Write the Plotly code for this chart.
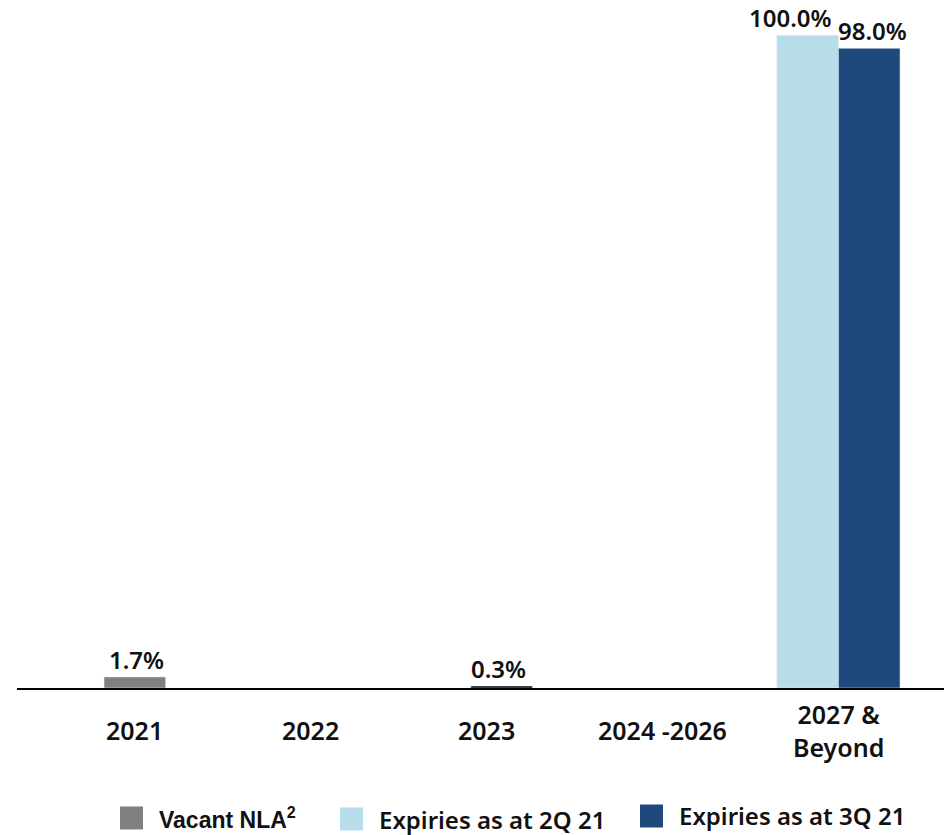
import plotly.graph_objects as go

# Lease expiry profile by year (% of NLA)
categories = ["2021", "2022", "2023", "2024 -2026", "2027 &<br>Beyond"]
vacant_nla = [1.7, None, None, None, None]
expiries_2q21 = [None, None, None, None, 100.0]
expiries_3q21 = [None, None, None, None, 98.0]
minor_expiry = [None, None, 0.3, None, None]

legend_names = ["Vacant NLA<sup>2</sup>", "Expiries as at 2Q 21", "Expiries as at 3Q 21"]

GRAY = "#808080"
LIGHT = "#b7dde8"
DARK = "#1f497c"
BAR_W = 0.35

W, H = 945, 835
M_L, M_R, M_T, M_B = 17, 1, 0, 147
PW, PH = W - M_L - M_R, H - M_T - M_B


def px_x(px):
    return (px - M_L) / PW


def px_y(py):
    return (H - M_B - py) / PH


idx = list(range(len(categories)))

fig = go.Figure()
fig.add_trace(go.Bar(x=idx, y=vacant_nla, name=legend_names[0],
                     marker_color=GRAY, width=BAR_W, offset=-BAR_W / 2))
fig.add_trace(go.Bar(x=idx, y=expiries_2q21, name=legend_names[1],
                     marker_color=LIGHT, width=BAR_W, offset=-BAR_W))
fig.add_trace(go.Bar(x=idx, y=expiries_3q21, name=legend_names[2],
                     marker_color=DARK, width=BAR_W, offset=0))
fig.add_trace(go.Bar(x=idx, y=minor_expiry,
                     marker_color="#000000", width=BAR_W, offset=-0.09))

label_font = dict(family="Noto Sans", size=24, color="#111111", weight=600)
series_labels = [
    (vacant_nla, 0.0, 2),
    (expiries_2q21, -BAR_W / 2, -17),
    (expiries_3q21, BAR_W / 2, 3),
    (minor_expiry, 0.085, -3),
]
for values, dx, xs in series_labels:
    for i, v in enumerate(values):
        if v is None:
            continue
        fig.add_annotation(x=i + dx, y=v, xref="x", yref="y",
                           text=f"{v:.1f}%", showarrow=False,
                           yanchor="bottom", yshift=-1, xshift=xs,
                           font=label_font)

# Category labels under the baseline, vertically centred
tick_font = dict(family="Noto Sans", size=25, color="#111111", weight=600)
for i, c in enumerate(categories):
    fig.add_annotation(x=i, y=0, xref="x", yref="y",
                       text=c, showarrow=False,
                       yanchor="middle", yshift=-42,
                       font=tick_font)

# Legend row: colour swatch followed by series name
legend_items = [
    (GRAY, legend_names[0], 120, 818, dict(family="Liberation Sans", size=23, weight=700)),
    (LIGHT, legend_names[1], 340, 819, dict(family="Noto Sans", size=24, weight=600)),
    (DARK, legend_names[2], 640, 816, dict(family="Noto Sans", size=24, weight=600)),
]
SW = 23
for color, name, x0, yc, fnt in legend_items:
    fig.add_shape(type="rect", xref="paper", yref="paper",
                  x0=px_x(x0), x1=px_x(x0 + SW),
                  y0=px_y(yc + SW / 2), y1=px_y(yc - SW / 2),
                  fillcolor=color, line_width=0)
    fig.add_annotation(xref="paper", yref="paper",
                       x=px_x(x0 + SW + 14), y=px_y(yc),
                       xanchor="left", yanchor="middle",
                       text=name, showarrow=False,
                       font=dict(color="#111111", **fnt))

fig.update_layout(
    width=W, height=H,
    margin=dict(l=M_L, r=M_R, t=M_T, b=M_B),
    barmode="overlay",
    plot_bgcolor="white", paper_bgcolor="white",
    showlegend=False,
    xaxis=dict(range=[-0.67, 4.6], showticklabels=False, ticks="",
               showgrid=False, zeroline=False,
               showline=True, linecolor="#000000", linewidth=2),
    yaxis=dict(range=[0, 105.4], visible=False, showgrid=False),
)

fig.write_html("out.html")
